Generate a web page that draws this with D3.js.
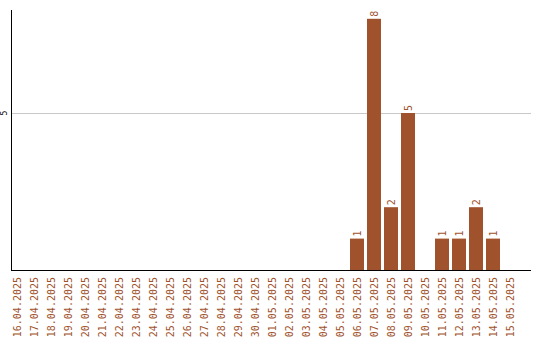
<!doctype html>
<html>
<head>
<meta charset="utf-8">
<script src="https://d3js.org/d3.v7.min.js"></script>
<style>
  body { margin: 0; background: #fff; }
  svg { display: block; }
  .lbl { font: 10px "DejaVu Sans Mono", monospace; fill: #a0522d; }
  .ylbl { font: 8px "DejaVu Sans Mono", monospace; fill: #000; }
</style>
</head>
<body>
<svg width="540" height="340"></svg>
<script>
var dates = ["16.04.2025","17.04.2025","18.04.2025","19.04.2025","20.04.2025","21.04.2025",
  "22.04.2025","23.04.2025","24.04.2025","25.04.2025","26.04.2025","27.04.2025","28.04.2025",
  "29.04.2025","30.04.2025","01.05.2025","02.05.2025","03.05.2025","04.05.2025","05.05.2025",
  "06.05.2025","07.05.2025","08.05.2025","09.05.2025","10.05.2025","11.05.2025","12.05.2025",
  "13.05.2025","14.05.2025","15.05.2025"];
var counts = [0,0,0,0,0,0,0,0,0,0,0,0,0,0,0,0,0,0,0,0,1,8,2,5,0,1,1,2,1,0];
var yTicks = [5];

var svg = d3.select("svg");
var pLeft = 11, pRight = 531, pTop = 10, pBottom = 270;

var x = d3.scaleBand().domain(dates).range([10, 517])
    .paddingInner(3/17).paddingOuter(0);
var y = d3.scaleLinear().domain([0, 8.28]).range([pBottom, pTop]);

var data = dates.map(function(d, i) { return {date: d, v: counts[i]}; });

// grid
svg.selectAll(".grid").data(yTicks).enter().append("line")
  .attr("x1", pLeft).attr("x2", pRight)
  .attr("y1", function(d) { return y(d) + 0.5; })
  .attr("y2", function(d) { return y(d) + 0.5; })
  .attr("stroke", "#c8c8c8").attr("stroke-width", 1);

svg.selectAll(".ylbl").data(yTicks).enter().append("text")
  .attr("class", "ylbl")
  .attr("transform", function(d) { return "translate(7," + y(d) + ") rotate(-90)"; })
  .attr("text-anchor", "middle")
  .text(function(d) { return d; });

// bars
var bars = data.filter(function(d) { return d.v > 0; });
svg.selectAll("rect").data(bars).enter().append("rect")
  .attr("x", function(d) { return x(d.date); })
  .attr("y", function(d) { return y(d.v); })
  .attr("width", x.bandwidth())
  .attr("height", function(d) { return y(0) - y(d.v); })
  .attr("fill", "#a0522d");

svg.selectAll(".val").data(bars).enter().append("text")
  .attr("class", "lbl")
  .attr("transform", function(d) {
    return "translate(" + (x(d.date) + x.bandwidth() / 2 + 3.5) + "," + (y(d.v) - 2) + ") rotate(-90)";
  })
  .attr("text-anchor", "start")
  .text(function(d) { return d.v; });

// axes lines
svg.append("line").attr("x1", pLeft + 0.5).attr("x2", pLeft + 0.5)
  .attr("y1", pTop).attr("y2", pBottom + 1).attr("stroke", "#000");
svg.append("line").attr("x1", pLeft).attr("x2", pRight)
  .attr("y1", pBottom + 0.5).attr("y2", pBottom + 0.5).attr("stroke", "#000");

// x labels
svg.selectAll(".xl").data(dates).enter().append("text")
  .attr("class", "lbl")
  .attr("transform", function(d) {
    return "translate(" + (x(d) + x.bandwidth() / 2 + 3.5) + ",277) rotate(-90)";
  })
  .attr("text-anchor", "end")
  .text(function(d) { return d; });
</script>
</body>
</html>
